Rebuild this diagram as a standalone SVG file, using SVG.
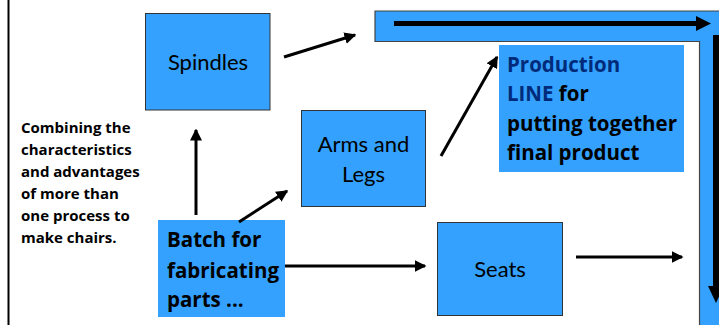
<svg xmlns="http://www.w3.org/2000/svg" width="719" height="325" viewBox="0 0 719 325">
<style>
.box{fill:#33a1fd;stroke:#333;stroke-width:1}
.nb{fill:#33a1fd}
.t{font-family:Lato,"Open Sans",sans-serif;font-size:22px;fill:#000}
.b{font-family:"Open Sans",Lato,sans-serif;font-weight:bold;fill:#000}
.c{stroke:#000;stroke-width:3;fill:none}
</style>
<defs>
<marker id="ah" markerWidth="4" markerHeight="4" refX="3.5" refY="2" orient="auto" markerUnits="strokeWidth">
<path d="M0,0 L4,2 L0,4 Z" fill="#000"/>
</marker>
</defs>
<rect width="719" height="325" fill="#fff"/>
<line x1="8.5" y1="0" x2="8.5" y2="325" stroke="#000" stroke-width="2"/>
<g id="line-frame">
<path d="M375,11 H725 V330 H699.5 V41.5 H375 Z" fill="#33a1fd" stroke="#444" stroke-width="1.2"/>
</g>
<g id="note">
<text class="b" font-size="15"><tspan x="21" y="133">Combining the</tspan><tspan x="21" y="155">characteristics</tspan><tspan x="21" y="177">and advantages</tspan><tspan x="21" y="199">of more than</tspan><tspan x="21" y="221">one process to</tspan><tspan x="21" y="243">make chairs.</tspan></text>
</g>
<g id="spindles">
<rect class="box" x="145.5" y="13.5" width="124.5" height="96.5"/>
<text class="t" x="208" y="70" text-anchor="middle">Spindles</text>
</g>
<g id="arms">
<rect class="box" x="301.5" y="110.5" width="124" height="96"/>
<text class="t" x="363.5" y="152" text-anchor="middle">Arms and</text>
<text class="t" x="363.5" y="182" text-anchor="middle">Legs</text>
</g>
<g id="production">
<rect class="nb" x="499" y="45" width="185" height="127"/>
<text class="b" font-size="20.5"><tspan x="507" y="72" fill="#002b7a">Production</tspan><tspan x="507" y="101"><tspan fill="#002b7a">LINE</tspan> for</tspan><tspan x="507" y="131">putting together</tspan><tspan x="507" y="160">final product</tspan></text>
</g>
<g id="batch">
<rect class="nb" x="158" y="220" width="127" height="97"/>
<text class="b" font-size="20.5"><tspan x="167" y="247">Batch for</tspan><tspan x="167" y="278">fabricating</tspan><tspan x="167" y="307">parts ...</tspan></text>
</g>
<g id="seats">
<rect class="box" x="437.5" y="222.5" width="125" height="93"/>
<text class="t" x="500" y="277" text-anchor="middle">Seats</text>
</g>
<g id="connectors">
<line class="c" x1="284" y1="57" x2="355" y2="35" marker-end="url(#ah)"/>
<line class="c" x1="196" y1="215" x2="196" y2="130" marker-end="url(#ah)"/>
<line class="c" x1="239" y1="222" x2="287" y2="191" marker-end="url(#ah)"/>
<line class="c" x1="441" y1="156" x2="497" y2="57" marker-end="url(#ah)"/>
<line class="c" x1="285" y1="266" x2="425" y2="266" marker-end="url(#ah)"/>
<line class="c" x1="576" y1="257" x2="682" y2="257" marker-end="url(#ah)"/>
<line x1="394" y1="23.5" x2="698" y2="23.5" stroke="#000" stroke-width="5"/>
<path d="M696,16 L711,23.5 L696,31 Z" fill="#000"/>
<line x1="716" y1="35" x2="716" y2="288" stroke="#000" stroke-width="6"/>
<path d="M708,286 L724,286 L716,303 Z" fill="#000"/>
</g>
</svg>
